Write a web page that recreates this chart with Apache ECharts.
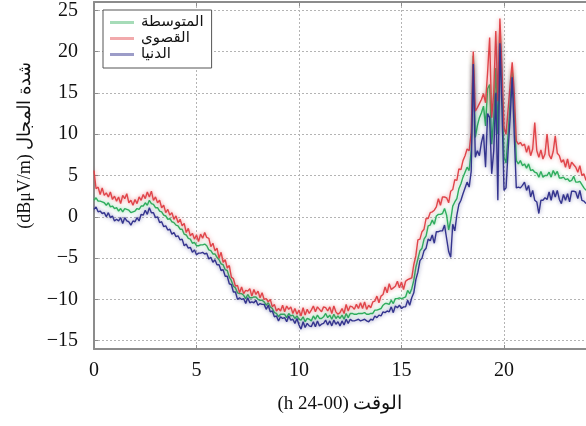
<!DOCTYPE html>
<html>
<head>
<meta charset="utf-8">
<script src="https://cdn.jsdelivr.net/npm/echarts@6/dist/echarts.min.js"></script>
<style>
  html, body { margin: 0; padding: 0; background: #fff; }
  #chart { width: 586px; height: 426px; }
</style>
</head>
<body>
<div id="chart"></div>
<script>
// Field strength over one day, sampled every 0.1 h (00-24 h)
const sampleStepHours = 0.1;

const seriesNames = ['المتوسطة', 'القصوى', 'الدنيا'];

const meanLevel = [
  2.0, 2.3, 1.9, 1.9, 1.8, 1.7, 1.4, 1.7, 1.2, 1.3,
  1.0, 1.1, 0.7, 1.0, 0.6, 1.0, 0.9, 0.8, 0.5, 0.6,
  0.7, 1.0, 0.9, 1.3, 1.3, 1.7, 1.4, 2.0, 1.6, 1.5,
  1.1, 1.1, 0.7, 0.6, 0.2, 0.1, -0.3, -0.2, -0.6, -0.7,
  -1.0, -1.1, -1.5, -1.5, -2.1, -2.2, -2.6, -2.7, -3.2, -3.1,
  -3.5, -3.5, -3.4, -3.4, -3.3, -3.5, -4.0, -4.1, -4.5, -4.5,
  -4.9, -5.2, -5.7, -5.8, -6.4, -6.5, -7.3, -7.7, -8.4, -8.6,
  -9.2, -9.3, -9.3, -9.5, -9.9, -9.4, -9.8, -9.8, -9.7, -9.7,
  -10.0, -10.1, -10.1, -10.3, -10.7, -10.4, -10.9, -11.1, -11.6, -11.7,
  -12.1, -11.8, -11.8, -11.8, -12.2, -11.7, -12.0, -11.9, -12.3, -12.0,
  -12.4, -12.5, -12.1, -12.7, -12.3, -12.4, -12.6, -12.0, -12.4, -11.9,
  -12.3, -12.3, -12.1, -11.7, -12.2, -11.9, -12.4, -11.8, -12.3, -12.0,
  -12.3, -11.9, -12.4, -11.7, -12.2, -11.7, -11.7, -11.8, -11.8, -11.7,
  -11.7, -11.7, -11.6, -11.8, -11.8, -11.7, -11.7, -11.3, -11.3, -11.2,
  -11.1, -10.7, -10.5, -10.5, -10.6, -10.1, -10.5, -9.9, -9.9, -9.8,
  -9.9, -9.8, -9.7, -8.9, -9.3, -8.7, -7.7, -6.1, -5.1, -4.1,
  -3.8, -2.7, -2.3, -1.1, -1.0, -0.4, -0.9, 0.1, 0.3, 0.3,
  0.4, 1.0, 0.2, -1.6, -0.4, 1.3, 1.8, 2.2, 3.4, 4.0,
  4.8, 5.4, 6.0, 5.6, 8.0, 19.5, 9.6, 11.0, 12.0, 12.6,
  13.4, 11.0, 15.5, 16.0, 8.8, 12.0, 18.0, 10.0, 22.0, 15.7,
  7.2, 6.5, 10.0, 14.0, 17.7, 13.0, 6.8, 6.4, 6.8, 6.2,
  6.4, 5.9, 6.4, 5.6, 5.7, 5.4, 5.3, 4.8, 5.5, 4.8,
  5.0, 5.0, 5.4, 4.8, 5.6, 5.1, 5.5, 4.7, 4.7, 4.8,
  4.5, 4.6, 4.3, 4.4, 4.9, 4.2, 4.2, 4.3, 3.9, 3.5,
  3.2
];

const maxLevel = [
  5.6, 3.4, 3.6, 2.7, 3.5, 2.6, 2.9, 2.4, 3.0, 2.1,
  2.5, 1.9, 2.4, 1.6, 2.6, 2.2, 2.8, 1.7, 2.0, 1.4,
  2.1, 1.6, 2.4, 2.0, 2.7, 2.2, 3.0, 2.4, 3.1, 2.0,
  2.4, 1.7, 2.0, 1.1, 1.4, 0.5, 0.9, 0.2, 0.5, -0.3,
  0.1, -0.7, -0.3, -1.1, -0.8, -1.9, -1.4, -2.3, -2.0, -2.7,
  -2.2, -3.0, -2.1, -2.6, -1.9, -2.5, -2.6, -3.6, -3.2, -4.1,
  -3.8, -5.0, -4.3, -5.5, -5.2, -6.2, -5.9, -7.3, -7.5, -8.4,
  -8.3, -9.2, -8.5, -9.3, -8.9, -9.0, -8.7, -9.6, -8.8, -9.4,
  -9.0, -9.8, -9.2, -10.0, -9.9, -10.3, -10.0, -10.9, -10.6, -11.4,
  -11.1, -11.4, -10.7, -11.5, -10.8, -11.2, -10.9, -11.7, -11.1, -11.8,
  -11.3, -12.0, -11.0, -11.9, -11.2, -11.7, -11.3, -10.8, -11.5, -10.9,
  -11.2, -11.5, -10.9, -11.0, -11.4, -10.9, -11.7, -10.8, -11.5, -11.8,
  -11.6, -11.1, -11.7, -10.6, -11.4, -10.8, -10.9, -11.2, -10.6, -11.1,
  -10.4, -11.1, -10.3, -11.2, -10.7, -11.0, -10.3, -10.2, -9.6, -10.4,
  -9.6, -9.4, -8.5, -9.2, -8.1, -8.8, -8.6, -8.4, -7.8, -8.6,
  -7.9, -8.8, -7.8, -7.6, -7.5, -7.4, -5.8, -4.7, -2.8, -2.7,
  -1.8, -1.5, -0.2, -0.2, 0.5, 0.6, 0.8, 1.2, 2.2, 1.4,
  2.4, 2.4, 2.3, 1.7, 3.1, 3.3, 4.5, 4.4, 5.8, 5.7,
  6.8, 7.4, 8.2, 8.0, 10.2, 20.0, 12.8, 13.2, 13.7, 14.2,
  14.9, 13.8, 17.5, 21.7, 12.0, 15.0, 22.5, 14.0, 24.0, 18.0,
  10.8, 10.0, 13.0, 16.0, 18.7, 15.0, 9.2, 8.8, 9.0, 8.6,
  8.8, 7.8, 8.6, 7.4, 8.2, 11.4, 8.0, 7.2, 8.1, 7.0,
  7.6, 10.0, 7.5, 7.0, 7.9, 9.8, 7.7, 7.4, 6.6, 6.9,
  6.0, 7.0, 5.8, 6.6, 6.3, 6.0, 5.4, 6.2, 5.0, 5.2,
  4.4
];

const minLevel = [
  0.9, 1.2, 0.6, 0.7, 0.4, 0.5, 0.0, 0.5, -0.1, 0.1,
  -0.5, -0.3, -0.5, -0.1, -0.8, -0.1, -0.5, -0.6, -1.0, -0.5,
  -0.6, -0.1, -0.5, 0.3, 0.2, 0.8, 0.3, 1.1, 0.5, 0.5,
  -0.1, 0.0, -0.7, -0.6, -1.2, -1.1, -1.6, -1.5, -2.1, -1.9,
  -2.4, -2.3, -2.8, -2.7, -3.5, -3.3, -3.8, -3.7, -4.3, -4.0,
  -4.6, -4.4, -4.4, -4.3, -4.5, -4.4, -5.1, -4.9, -5.5, -5.2,
  -5.8, -5.8, -6.5, -6.4, -7.2, -7.2, -8.1, -8.2, -9.1, -9.1,
  -10.0, -9.8, -10.0, -9.9, -10.5, -9.8, -10.4, -10.3, -10.4, -10.1,
  -10.7, -10.5, -10.6, -10.6, -11.2, -10.7, -11.5, -11.4, -12.1, -12.0,
  -12.6, -12.1, -12.3, -12.2, -12.7, -12.0, -12.5, -12.4, -12.9, -12.3,
  -13.1, -13.6, -12.7, -13.4, -12.9, -13.2, -13.3, -12.7, -13.3, -12.6,
  -13.2, -13.0, -12.9, -12.5, -13.1, -12.6, -13.2, -12.5, -13.0, -12.7,
  -13.2, -12.6, -13.1, -12.4, -12.9, -12.4, -12.6, -12.6, -12.5, -12.4,
  -12.6, -12.5, -12.4, -12.6, -12.7, -12.4, -12.5, -12.0, -12.2, -11.9,
  -12.0, -11.5, -11.6, -11.4, -11.5, -10.9, -11.6, -10.8, -11.0, -10.7,
  -11.1, -10.9, -10.9, -10.1, -10.7, -9.8, -9.2, -7.6, -6.7, -5.3,
  -5.0, -4.1, -3.8, -2.7, -2.9, -2.2, -3.2, -1.8, -1.8, -1.7,
  -1.7, -1.0, -2.6, -4.2, -4.9, -0.9, -1.7, 0.2, 1.5, 2.0,
  2.8, 3.5, 4.2, 3.6, 5.5, 18.5, 7.2, 8.0, 7.4, 9.0,
  10.0, 6.0, 12.5, 12.0, 5.2, 8.0, 15.0, 2.0, 21.0, 13.2,
  3.2, 3.5, 8.0, 12.0, 16.9, 10.0, 3.5, 3.6, 3.5, 3.8,
  4.2, 3.2, 3.8, 2.4, 3.2, 2.0, 1.8, 0.4, 2.0, 2.0,
  2.3, 2.1, 3.0, 2.0, 3.2, 2.4, 3.2, 2.1, 1.6, 2.7,
  2.0, 2.8, 1.8, 3.1, 3.1, 3.0, 2.2, 3.2, 2.0, 1.9,
  1.6
];

const xTicks = [0, 5, 10, 15, 20];
const yTicks = [-15, -10, -5, 0, 5, 10, 15, 20, 25];

// Titles are wrapped in an RTL isolate so the Arabic reads right to left
const xTitle = '\u2067الوقت (00-24 h)\u2069';
const yTitle = '\u2067شدة المجال (dBμV/m)\u2069';

function toPairs(values) {
  return values.map((v, i) => [+(i * sampleStepHours).toFixed(1), v]);
}

const lineColors = ['#2fae5e', '#e0454a', '#34348e'];
const haloColors = ['rgba(47,174,94,0.6)', 'rgba(224,69,74,0.6)', 'rgba(52,52,142,0.6)'];
const legendColors = ['#a6dcb8', '#f2aaac', '#9c9cc8'];

const axisGray = '#8c8c8c';
const serifFont = '"Liberation Serif", "Times New Roman", "DejaVu Serif", serif';
const minusFmt = v => String(v).replace('-', '\u2212');

const chart = echarts.init(document.getElementById('chart'), null, { renderer: 'canvas' });

const seriesValues = [meanLevel, maxLevel, minLevel];

chart.setOption({
  animation: false,
  backgroundColor: '#ffffff',
  grid: { left: 94, right: 0, top: 2, bottom: 77, containLabel: false },
  legend: {
    orient: 'vertical',
    left: 103,
    top: 10,
    padding: [5, 8, 6, 7],
    itemGap: 1,
    itemWidth: 24,
    itemHeight: 3,
    icon: 'rect',
    borderColor: '#555',
    borderWidth: 1,
    backgroundColor: '#fff',
    textStyle: { fontFamily: '"DejaVu Sans", sans-serif', fontSize: 15, color: '#111', padding: [0, 0, 0, 2] },
    data: seriesNames.map((n, i) => ({ name: n, itemStyle: { color: legendColors[i] } }))
  },
  xAxis: [
    {
      type: 'value', min: 0, max: 24, interval: 5, position: 'bottom',
      axisLine: { show: true, onZero: false, lineStyle: { color: axisGray, width: 2 } },
      axisTick: { show: true, inside: true, length: 4, lineStyle: { color: axisGray } },
      axisLabel: { margin: 12, fontFamily: serifFont, fontSize: 20, color: '#111', formatter: minusFmt,
                   customValues: xTicks },
      splitLine: { show: true, lineStyle: { color: '#b4b4b4', type: [2, 2], width: 1 } },
      name: xTitle, nameLocation: 'middle', nameGap: 46,
      nameTextStyle: { fontFamily: serifFont, fontSize: 19, color: '#111' }
    },
    {
      type: 'value', min: 0, max: 24, interval: 5, position: 'top',
      axisLine: { show: true, onZero: false, lineStyle: { color: axisGray, width: 2 } },
      axisTick: { show: true, inside: true, length: 4, lineStyle: { color: axisGray } },
      axisLabel: { show: false },
      splitLine: { show: false }
    }
  ],
  yAxis: {
    type: 'value', min: -16, max: 26,
    axisLine: { show: true, onZero: false, lineStyle: { color: axisGray, width: 2 } },
    axisTick: { show: true, inside: true, length: 4, lineStyle: { color: axisGray }, customValues: yTicks },
    axisLabel: { margin: 16, fontFamily: serifFont, fontSize: 20, color: '#111', formatter: minusFmt,
                 customValues: yTicks },
    splitLine: { show: true, lineStyle: { color: '#b4b4b4', type: [2, 2], width: 1 } },
    name: yTitle, nameLocation: 'middle', nameGap: 60, nameRotate: 90,
    nameTextStyle: { fontFamily: serifFont, fontSize: 18, color: '#111', padding: [0, 0, 0, 60] }
  },
  series: seriesValues.map((vals, i) => ({
    name: seriesNames[i],
    type: 'line',
    data: toPairs(vals),
    showSymbol: false,
    symbol: 'none',
    color: lineColors[i],
    lineStyle: { width: 1.4, color: lineColors[i], shadowColor: haloColors[i], shadowBlur: 4 },
    emphasis: { disabled: true },
    z: 2 + i
  }))
});
</script>
</body>
</html>
